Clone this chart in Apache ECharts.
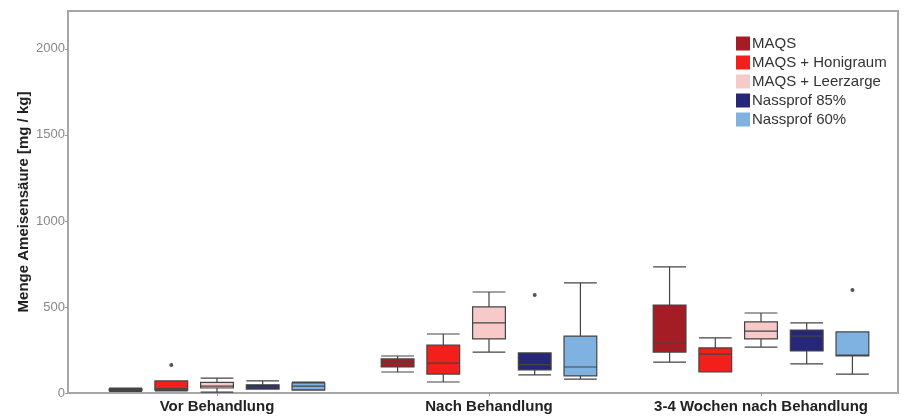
<!DOCTYPE html>
<html>
<head>
<meta charset="utf-8">
<title>Ameisensäure</title>
<script src="https://cdn.jsdelivr.net/npm/echarts@6/dist/echarts.min.js"></script>
<style>
  html, body { margin: 0; padding: 0; background: #fff; }
  #container { width: 906px; height: 417px; }
</style>
</head>
<body>
<div id="container"></div>
<script>
// Kategorien (x-Achse)
const categories = ['Vor Behandlung', 'Nach Behandlung', '3-4 Wochen nach Behandlung']

// Serien-Namen + Farben
const seriesNames = ['MAQS', 'MAQS + Honigraum', 'MAQS + Leerzarge', 'Nassprof 85%', 'Nassprof 60%']
const seriesColors = ['#a51d24', '#f21f1a', '#f7c9c9', '#272779', '#80b2e1']

// Boxplot-Werte je Serie: [min, Q1, Median, Q3, max] pro Kategorie
const maqs = [[10, 14, 18, 24, 28], [122, 151, 180, 198, 215], [180, 238, 290, 511, 733]]
const honigraum = [[12, 17, 25, 70, 70], [64, 110, 174, 279, 343], [122, 122, 226, 262, 320]]
const leerzarge = [[5, 29, 40, 62, 87], [238, 314, 407, 500, 587], [267, 314, 360, 413, 465]]
const nass85 = [[22, 23, 35, 48, 70], [105, 134, 165, 233, 233], [169, 244, 331, 366, 407]]
const nass60 = [[17, 18, 40, 58, 64], [81, 99, 151, 331, 640], [110, 215, 220, 355, 355]]
const boxData = [maqs, honigraum, leerzarge, nass85, nass60]

// Ausreißer je Serie: [Kategorie-Index, Wert]
const maqsOut = []
const honigraumOut = [[0, 163]]
const leerzargeOut = []
const nass85Out = [[1, 570]]
const nass60Out = [[2, 599]]
const outliers = [maqsOut, honigraumOut, leerzargeOut, nass85Out, nass60Out]

// y-Achse
const yMax = 2220
const yInterval = 500

const chart = echarts.init(document.getElementById('container'), null, { renderer: 'canvas' })

const seriesCount = seriesNames.length

// gleiche Versatz-Rechnung wie das Boxplot-Layout von ECharts
const makeOutlierRender = idx => (params, api) => {
  const pt = api.coord([api.value(0), api.value(1)])
  const bw = api.size([1, 0])[0]
  const avail = bw * 0.8 - 2
  const gap = avail / seriesCount * 0.3
  const w = (avail - gap * (seriesCount - 1)) / seriesCount
  const x = pt[0] + (w / 2 - avail / 2) + idx * (gap + w)
  return {
    type: 'circle',
    shape: { cx: x, cy: pt[1], r: 2 },
    style: { fill: '#555' }
  }
}

const series = []
seriesNames.forEach((name, i) => {
  series.push({
    name,
    type: 'boxplot',
    data: boxData[i],
    itemStyle: { color: seriesColors[i], borderColor: '#444', borderWidth: 1.2 },
    emphasis: { disabled: true }
  })
})
outliers.forEach((list, i) => {
  if (!list.length) return
  series.push({
    type: 'custom',
    renderItem: makeOutlierRender(i),
    data: list,
    encode: { x: 0, y: 1 },
    z: 5
  })
})

const option = {
  animation: false,
  backgroundColor: '#fff',
  grid: { left: 81, right: 9, top: 11, bottom: 24 },
  legend: {
    data: seriesNames.map((name, i) => ({
      name,
      itemStyle: { color: seriesColors[i], borderWidth: 0 }
    })),
    orient: 'vertical',
    left: 731,
    top: 31,
    icon: 'rect',
    itemWidth: 14,
    itemHeight: 14,
    itemGap: 4,
    textStyle: {
      fontFamily: 'Liberation Sans, Arial',
      fontSize: 15,
      lineHeight: 14,
      color: '#333',
      padding: [0, 0, 0, -3]
    }
  },
  xAxis: {
    type: 'category',
    data: categories,
    axisLine: { show: false },
    axisTick: { show: true, alignWithLabel: true, length: 3, lineStyle: { color: '#999' } },
    axisLabel: {
      interval: 0,
      hideOverlap: false,
      fontFamily: 'Liberation Sans, Arial',
      fontWeight: 'bold',
      fontSize: 15,
      color: '#222',
      margin: 6
    },
    splitLine: { show: false }
  },
  yAxis: {
    type: 'value',
    min: 0,
    max: yMax,
    interval: yInterval,
    offset: 13,
    name: 'Menge Ameisensäure [mg / kg]',
    nameLocation: 'middle',
    nameGap: 37,
    nameMoveOverlap: false,
    nameTextStyle: { fontFamily: 'Liberation Sans, Arial', fontWeight: 'bold', fontSize: 15, color: '#222' },
    axisLine: { show: true, lineStyle: { color: '#a6a6a6', width: 2 } },
    axisTick: { show: true, length: 3, lineStyle: { color: '#999' } },
    axisLabel: {
      fontFamily: 'Liberation Sans, Arial',
      fontSize: 13,
      color: '#888',
      margin: 3,
      showMaxLabel: false,
      formatter: v => String(v)
    },
    splitLine: { show: false }
  },
  graphic: [{
    type: 'rect',
    shape: { x: 68, y: 11, width: 830, height: 382 },
    style: { fill: 'none', stroke: '#a6a6a6', lineWidth: 2 },
    silent: true,
    z: -1
  }],
  series
}

chart.setOption(option)
</script>
</body>
</html>
